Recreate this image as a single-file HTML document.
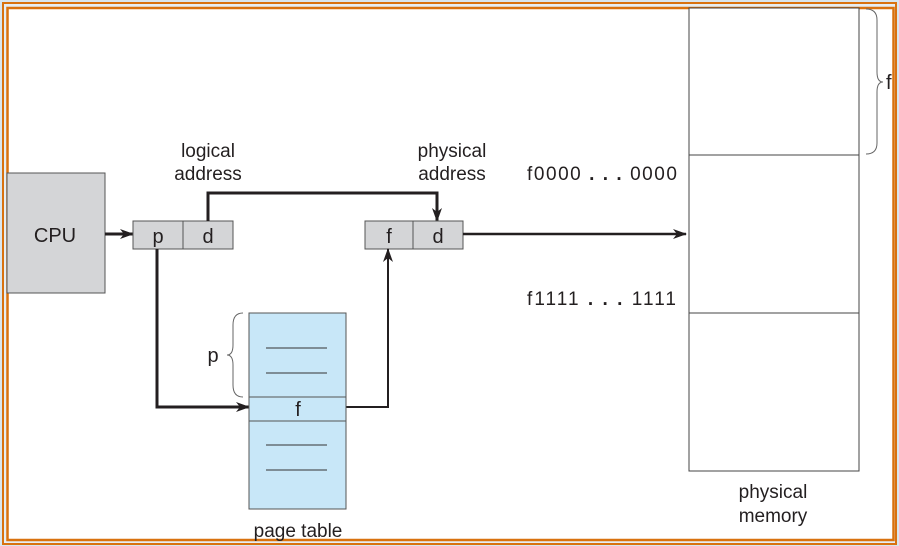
<!DOCTYPE html>
<html><head><style>
html,body{margin:0;padding:0;background:#fff;}
svg{display:block;}
text{font-family:"Liberation Sans",sans-serif;fill:#231f20;}
</style></head><body>
<svg width="899" height="546" viewBox="0 0 899 546" xmlns="http://www.w3.org/2000/svg">
<defs>
<marker id="ah" markerWidth="14" markerHeight="10" refX="13" refY="5" orient="auto" markerUnits="userSpaceOnUse" viewBox="0 0 14 10">
<path d="M0,0 L14,5 L0,10 L4,5 Z" fill="#231f20"/>
</marker>
</defs>
<rect x="0" y="0" width="899" height="546" fill="#d9e6ee"/>
<rect x="3" y="3" width="893" height="541" fill="#e6eef3" stroke="#d9720f" stroke-width="2"/>
<rect x="7.5" y="8" width="886" height="532" fill="#fff" stroke="#d9720f" stroke-width="2.5"/>

<!-- CPU -->
<rect x="7" y="173" width="98" height="120" fill="#d4d5d7" stroke="#555" stroke-width="1"/>
<text x="55" y="242" font-size="20" text-anchor="middle">CPU</text>
<line x1="105" y1="234" x2="133" y2="234" stroke="#231f20" stroke-width="3" marker-end="url(#ah)"/>

<!-- logical address -->
<rect x="133" y="221" width="100" height="28" fill="#d4d5d7" stroke="#555" stroke-width="1"/>
<line x1="183" y1="221" x2="183" y2="249" stroke="#555"/>
<text x="158" y="243" font-size="20" text-anchor="middle">p</text>
<text x="208" y="243" font-size="20" text-anchor="middle">d</text>
<text x="208" y="157" font-size="19" text-anchor="middle">logical</text>
<text x="208" y="180" font-size="19" text-anchor="middle">address</text>

<polyline points="208,221 208,193 437,193 437,221" fill="none" stroke="#231f20" stroke-width="3" marker-end="url(#ah)"/>

<!-- physical address -->
<rect x="365" y="221" width="98" height="28" fill="#d4d5d7" stroke="#555" stroke-width="1"/>
<line x1="413" y1="221" x2="413" y2="249" stroke="#555"/>
<text x="389" y="243" font-size="20" text-anchor="middle">f</text>
<text x="438" y="243" font-size="20" text-anchor="middle">d</text>
<text x="452" y="157" font-size="19" text-anchor="middle">physical</text>
<text x="452" y="180" font-size="19" text-anchor="middle">address</text>
<line x1="463" y1="234" x2="686" y2="234" stroke="#231f20" stroke-width="2.5" marker-end="url(#ah)"/>

<!-- p to page table -->
<polyline points="157,249 157,407 249,407" fill="none" stroke="#231f20" stroke-width="3" marker-end="url(#ah)"/>
<polyline points="346,407 388,407 388,249" fill="none" stroke="#231f20" stroke-width="2" marker-end="url(#ah)"/>

<!-- page table -->
<rect x="249" y="313" width="97" height="196" fill="#c8e7f8" stroke="#555" stroke-width="1"/>
<line x1="249" y1="397" x2="346" y2="397" stroke="#555"/>
<line x1="249" y1="421" x2="346" y2="421" stroke="#555"/>
<line x1="266" y1="348" x2="327" y2="348" stroke="#333"/>
<line x1="266" y1="373" x2="327" y2="373" stroke="#333"/>
<line x1="266" y1="445" x2="327" y2="445" stroke="#333"/>
<line x1="266" y1="470" x2="327" y2="470" stroke="#333"/>
<text x="298" y="416" font-size="20" text-anchor="middle">f</text>
<text x="298" y="537" font-size="19" text-anchor="middle">page table</text>
<path d="M243,313 Q233,313 233,325 L233,345 Q233,355 227,355 Q233,355 233,365 L233,385 Q233,397 243,397" fill="none" stroke="#666" stroke-width="1"/>
<text x="213" y="362" font-size="20" text-anchor="middle">p</text>

<!-- physical memory -->
<rect x="689" y="8" width="170" height="463" fill="#fff" stroke="#444" stroke-width="1"/>
<line x1="689" y1="155" x2="859" y2="155" stroke="#444"/>
<line x1="689" y1="313" x2="859" y2="313" stroke="#444"/>
<path d="M866,9 Q877,9 877,20 L877,72 Q877,82 883,82 Q877,82 877,92 L877,143 Q877,154 866,154" fill="none" stroke="#666" stroke-width="1"/>
<text x="886" y="89" font-size="20">f</text>
<text x="527" y="180" font-size="19" textLength="150" lengthAdjust="spacing">f0000 <tspan font-weight="bold">. . .</tspan> 0000</text>
<text x="527" y="305" font-size="19" textLength="149" lengthAdjust="spacing">f1111 <tspan font-weight="bold">. . .</tspan> 1111</text>
<text x="773" y="498" font-size="19" text-anchor="middle">physical</text>
<text x="773" y="522" font-size="19" text-anchor="middle">memory</text>
</svg>
</body></html>
